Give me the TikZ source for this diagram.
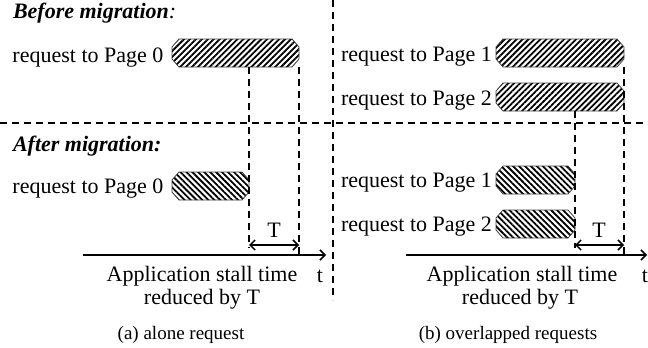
\documentclass[tikz,border=0pt]{standalone}
\usepackage{fontspec}
\setmainfont{Liberation Serif}
\usetikzlibrary{patterns.meta,arrows.meta}

% outline of a request bar with chamfered corners, drawn round node #1
\newcommand\chambar[2]{%
  \path[#2,draw=black!75,line width=0.8pt]
    ([xshift=7pt]#1.north west) -- ([xshift=-7pt]#1.north east)
    -- ([yshift=-8pt]#1.north east) -- ([yshift=8pt]#1.south east)
    -- ([xshift=-7pt]#1.south east) -- ([xshift=7pt]#1.south west)
    -- ([yshift=8pt]#1.south west) -- ([yshift=-8pt]#1.north west) -- cycle;}

\begin{document}
\begin{tikzpicture}[x=1pt,y=-1pt,
  every node/.style={inner sep=0pt,outer sep=0pt},
  lbl/.style={font=\fontsize{22}{26}\selectfont,anchor=base west},
  mid/.style={font=\fontsize{22}{26}\selectfont,anchor=base},
  captext/.style={font=\fontsize{19}{23}\selectfont,anchor=base},
  reqbar/.style={rectangle,minimum height=28pt},
  oldhatch/.style={pattern={Lines[angle=45,distance=4.2pt,line width=1.8pt]}},
  newhatch/.style={pattern={Lines[angle=-45,distance=4.2pt,line width=1.8pt]}},
  guide/.style={dash pattern=on 7pt off 5pt,line width=1.4pt},
  axisline/.style={line width=1.5pt,-{Straight Barb[length=5pt,width=10pt]}},
  dimline/.style={line width=1.5pt,
    {Straight Barb[length=5pt,width=10pt]}-{Straight Barb[length=5pt,width=10pt]}}
]
\useasboundingbox (0,0) rectangle (648,348);

% panel separators
\draw[guide] (0,123) -- (648,123);
\draw[guide] (333,0) -- (333,300);

% headings
\node[lbl] (hbefore) at (13,19) {\textbf{\textit{Before migration}}\textit{:}};
\node[lbl] (hafter) at (13,151) {\textbf{\textit{After migration:}}};

% ---- (a) alone request ----
\node[lbl] (qa1) at (12.5,62) {request to Page 0};
\node[reqbar,minimum width=127pt] (a1) at (235.5,53) {};
\chambar{a1}{oldhatch}
\node[lbl] (qa2) at (12.5,193) {request to Page 0};
\node[reqbar,minimum width=77pt] (a2) at (210.5,186) {};
\chambar{a2}{newhatch}

\coordinate (lvl) at (0,245);
\coordinate (axL0) at (83,255);
\coordinate (axL1) at (326,255);

\draw[guide] (a2.east |- a1.south) -- (a2.east |- 0,248);
\draw[guide] (a1.east |- a1.south) -- (a1.east |- axL0);
\draw[dimline] (a2.east |- lvl) -- (a1.east |- lvl);
\node[mid] (ta) at (274,237) {T};
\draw[axisline] (axL0) -- (axL1);
\node[mid] (tl) at (320,282) {t};
\node[mid] (sa1) at (202,281) {Application stall time};
\node[mid] (sa2) at (202,304) {reduced by T};
\node[captext] (capa) at (181,339) {(a) alone request};

% ---- (b) overlapped requests ----
\node[lbl] (qb1) at (341,61) {request to Page 1};
\node[reqbar,minimum width=128pt] (b1) at (560,53) {};
\chambar{b1}{oldhatch}
\node[lbl] (qb2) at (341,105) {request to Page 2};
\node[reqbar,minimum width=128pt] (b2) at (560,97) {};
\chambar{b2}{oldhatch}
\node[lbl] (qb3) at (341,187) {request to Page 1};
\node[reqbar,minimum width=79pt] (b3) at (535.5,180) {};
\chambar{b3}{newhatch}
\node[lbl] (qb4) at (341,231) {request to Page 2};
\node[reqbar,minimum width=79pt] (b4) at (535.5,224) {};
\chambar{b4}{newhatch}

\coordinate (axR0) at (406,255);
\coordinate (axR1) at (647,255);

\draw[guide] (b4.east |- b2.south) -- (b4.east |- 0,248);
\draw[guide] (b1.east |- b1.south) -- (b1.east |- axR0);
\draw[dimline] (b4.east |- lvl) -- (b1.east |- lvl);
\node[mid] (tb) at (599,237) {T};
\draw[axisline] (axR0) -- (axR1);
\node[mid] (tr) at (645,282) {t};
\node[mid] (sb1) at (522,281) {Application stall time};
\node[mid] (sb2) at (520,304) {reduced by T};
\node[captext] (capb) at (508,339) {(b) overlapped requests};
\end{tikzpicture}
\end{document}
